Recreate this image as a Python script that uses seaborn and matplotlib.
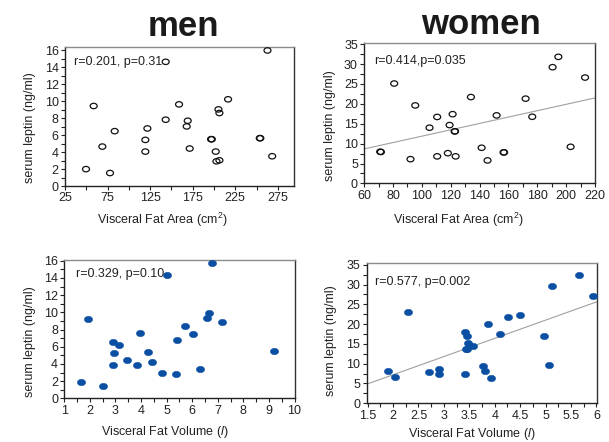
import numpy as np
import pandas as pd
import seaborn as sns
import matplotlib
matplotlib.use("Agg")
import matplotlib.pyplot as plt
from matplotlib.path import Path
from matplotlib.ticker import MultipleLocator

# ---------------- data ----------------
men_area_x = [49.7, 58.7, 68.9, 77.9, 83.4, 119.4, 119.4, 121.8, 143.3, 143.3, 159.0, 168.0, 169.2,
              171.5, 196.6, 197.5, 202.1, 202.9, 206.4, 205.3, 206.4, 216.6, 253.8, 254.5, 262.9, 268.4]
men_area_y = [2.0, 9.45, 4.66, 1.54, 6.48, 5.45, 4.07, 6.8, 7.83, 14.66, 9.64, 7.04, 7.71,
              4.43, 5.53, 5.53, 4.07, 2.92, 3.04, 9.05, 8.62, 10.24, 5.65, 5.65, 16.0, 3.52]

women_area_x = [71.1, 71.6, 80.8, 92.1, 95.4, 105.3, 110.6, 110.6, 118.0, 119.2, 121.3, 122.7, 123.0,
                123.4, 134.0, 141.4, 145.5, 151.8, 156.6, 157.0, 171.9, 176.5, 190.6, 194.6, 203.1, 213.1]
women_area_y = [7.96, 7.9, 25.1, 6.1, 19.6, 14.0, 16.7, 6.8, 7.6, 14.66, 17.4, 13.07, 13.1,
                6.8, 21.7, 8.96, 5.78, 17.1, 7.8, 7.8, 21.3, 16.75, 29.2, 31.8, 9.2, 26.6]

men_vol_x = [1.65, 1.93, 2.53, 2.89, 2.95, 2.91, 3.15, 3.45, 3.83, 3.95, 4.29, 4.43, 4.81, 5.01,
             5.35, 5.41, 5.71, 6.05, 6.31, 6.57, 6.67, 6.77, 7.15, 9.2]
men_vol_y = [1.9, 9.17, 1.48, 6.6, 5.24, 3.92, 6.25, 4.5, 3.92, 7.61, 5.4, 4.23, 2.91, 14.29,
             2.8, 6.83, 8.39, 7.53, 3.38, 9.4, 9.94, 15.69, 8.85, 5.51]

women_vol_x = [1.91, 2.04, 2.29, 2.70, 2.91, 2.91, 3.41, 3.46, 3.43, 3.46, 3.48, 3.57, 3.41, 3.77,
               3.80, 3.87, 3.93, 4.11, 4.26, 4.49, 4.96, 5.06, 5.13, 5.65, 5.94]
women_vol_y = [8.23, 6.55, 23.0, 7.98, 8.56, 7.3, 17.9, 17.1, 13.6, 13.6, 15.2, 14.5, 7.3, 9.49,
               8.23, 20.07, 6.3, 17.6, 21.7, 22.25, 17.1, 9.66, 29.7, 32.4, 27.0]

titles = ["men", "women"]
stats = ["r=0.201, p=0.31", "r=0.414,p=0.035", "r=0.329, p=0.10", "r=0.577, p=0.002"]
ylabel = "serum leptin (ng/ml)"
xlabel_area = r"Visceral Fat Area (cm$^{2}$)"
xlabel_vol = r"Visceral Fat Volume ($\mathit{l}$)"

# ---------------- style ----------------
sns.set_style("white")
plt.rcParams["font.family"] = ["Liberation Sans", "DejaVu Sans"]
plt.rcParams["mathtext.fontset"] = "custom"
plt.rcParams["mathtext.rm"] = "Liberation Sans"
plt.rcParams["mathtext.it"] = "Liberation Sans:italic"

blue = "#0b4fa2"
ell = Path.unit_circle()
ell_marker = Path(ell.vertices * np.array([1.0, 0.78]), ell.codes)

fig = plt.figure(figsize=(6.09, 4.42), dpi=100)

panels = [
    dict(pos=[0.1067, 0.579, 0.376, 0.3145], x=men_area_x, y=men_area_y, filled=False, fit=False,
         xlim=(25, 294), ylim=(0, 16.4), xmaj=50, xmin=25, ymaj=2, ymin=1, xstart=25,
         xlabel=xlabel_area, stat=stats[0], tpos=(0.04, 0.89),
         xl=(0.427, -0.245), yl=(-0.153, 0.42)),
    dict(pos=[0.598, 0.585, 0.379, 0.317], x=women_area_x, y=women_area_y, filled=False, fit=True,
         xlim=(60, 220), ylim=(0, 35.2), xmaj=20, xmin=10, ymaj=5, ymin=2.5, xstart=60,
         xlabel=xlabel_area, stat=stats[1], tpos=(0.042, 0.873),
         xl=(0.41, -0.262), yl=(-0.149, 0.416)),
    dict(pos=[0.1056, 0.0989, 0.378, 0.313], x=men_vol_x, y=men_vol_y, filled=True, fit=False,
         xlim=(1, 10), ylim=(0, 16.1), xmaj=1, xmin=0.5, ymaj=2, ymin=1, xstart=1,
         xlabel=xlabel_vol, stat=stats[2], tpos=(0.051, 0.899),
         xl=(0.438, -0.241), yl=(-0.149, 0.41)),
    dict(pos=[0.602, 0.0876, 0.379, 0.317], x=women_vol_x, y=women_vol_y, filled=True, fit=True,
         xlim=(1.48, 6.02), ylim=(0, 35.4), xmaj=0.5, xmin=0.25, ymaj=5, ymin=2.5, xstart=1.5,
         xlabel=xlabel_vol, stat=stats[3], tpos=(0.037, 0.864),
         xl=(0.455, -0.222), yl=(-0.155, 0.446)),
]

for p in panels:
    ax = fig.add_axes(p["pos"])
    df = pd.DataFrame({"x": p["x"], "y": p["y"]})
    ax.set_xlim(*p["xlim"])
    ax.set_ylim(*p["ylim"])
    if p["fit"]:
        sns.regplot(data=df, x="x", y="y", ax=ax, scatter=False, ci=None, truncate=False,
                    line_kws=dict(color="#a0a0a0", lw=0.8))
    if p["filled"]:
        sns.scatterplot(data=df, x="x", y="y", ax=ax, marker=ell_marker, s=36,
                        color=blue, edgecolor=blue, linewidth=0.3, zorder=3)
    else:
        sns.scatterplot(data=df, x="x", y="y", ax=ax, marker=ell_marker, s=25,
                        facecolor="none", edgecolor="#111111", linewidth=0.9, zorder=3)
    ax.set_xlim(*p["xlim"])
    ax.set_ylim(*p["ylim"])
    xs = p["xstart"]
    ax.set_xticks(np.arange(xs, p["xlim"][1] + 1e-6, p["xmaj"]))
    ax.xaxis.set_minor_locator(MultipleLocator(p["xmin"]))
    ax.yaxis.set_major_locator(MultipleLocator(p["ymaj"]))
    ax.yaxis.set_minor_locator(MultipleLocator(p["ymin"]))
    fmt = (lambda v, pos: f"{v:g}")
    ax.xaxis.set_major_formatter(matplotlib.ticker.FuncFormatter(fmt))
    ax.tick_params(which="both", direction="out", length=3, width=0.8, color="#222222",
                   labelsize=9, pad=1.5, labelcolor="#222222")
    ax.tick_params(axis="x", which="both", bottom=True)
    ax.tick_params(axis="y", which="both", left=True)
    for side in ["left", "bottom"]:
        ax.spines[side].set_color("#222222")
        ax.spines[side].set_linewidth(1.0)
    ax.spines["top"].set_color("#8a8a8a")
    ax.spines["right"].set_color("#333333")
    ax.spines["top"].set_linewidth(1.0)
    ax.spines["right"].set_linewidth(1.0)
    ax.set_xlabel(p["xlabel"], fontsize=9, color="#222222")
    ax.set_ylabel(ylabel, fontsize=9, color="#222222")
    ax.xaxis.set_label_coords(*p["xl"])
    ax.yaxis.set_label_coords(*p["yl"])
    ax.xaxis.label.set_va("center")
    ax.yaxis.label.set_va("center")
    ax.text(p["tpos"][0], p["tpos"][1], p["stat"], transform=ax.transAxes, fontsize=9,
            va="center", ha="left", color="#222222", zorder=2)

fig.text(183 / 609, 1 - 27 / 442, titles[0], fontsize=25, fontweight="bold",
         ha="center", va="center", color="#1a1a1a")
fig.text(481 / 609, 1 - 25 / 442, titles[1], fontsize=25, fontweight="bold",
         ha="center", va="center", color="#1a1a1a")

fig.savefig("out.png", dpi=100, facecolor="white")
